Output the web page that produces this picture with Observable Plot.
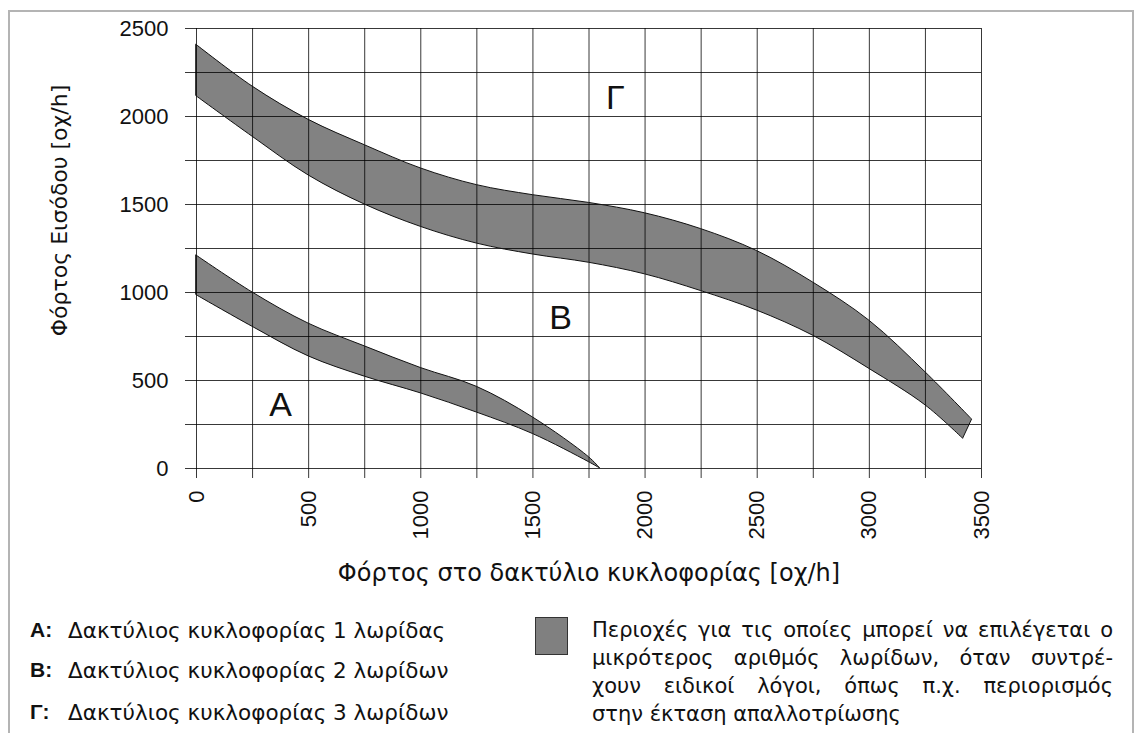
<!DOCTYPE html>
<html><head><meta charset="utf-8">
<script src="https://cdn.jsdelivr.net/npm/d3@7"></script>
<script src="https://cdn.jsdelivr.net/npm/@observablehq/plot@0.6"></script>
<style>
body{margin:0;background:#fff;}
#wrap{position:relative;width:1140px;height:733px;overflow:hidden;background:#fff;}
#frame{position:absolute;left:8px;top:10px;width:1126px;height:780px;border:2px solid #b4b4b4;box-sizing:border-box;}
#chart{position:absolute;left:0;top:0;}
.lg{font-family:"DejaVu Sans","Liberation Sans",Arial,sans-serif;color:#111;}
.leg{position:absolute;font-size:21.5px;white-space:nowrap;}
.leg b{position:absolute;left:0;font-family:"Liberation Sans",Arial,sans-serif;font-size:21px;}
.leg span{position:absolute;left:38px;}
#swatch{position:absolute;left:535px;top:617px;width:33px;height:38px;background:#808080;border:1.5px solid #333;box-sizing:border-box;}
#note{position:absolute;left:592px;top:616px;width:521px;font-size:21px;line-height:28px;}
#note div{text-align:justify;text-align-last:justify;white-space:nowrap;}
#note div.last{text-align-last:left;}
</style></head><body>
<div id="wrap">
<div id="frame"></div>
<div id="chart"></div>
<div class="lg">
<div class="leg" style="left:30px;top:618px"><b>Α:</b><span>Δακτύλιος κυκλοφορίας 1 λωρίδας</span></div>
<div class="leg" style="left:30px;top:658px"><b>Β:</b><span>Δακτύλιος κυκλοφορίας 2 λωρίδων</span></div>
<div class="leg" style="left:30px;top:700px"><b>Γ:</b><span>Δακτύλιος κυκλοφορίας 3 λωρίδων</span></div>
<div id="swatch"></div>
<div id="note">
<div>Περιοχές για τις οποίες μπορεί να επιλέγεται ο</div>
<div>μικρότερος αριθμός λωρίδων, όταν συντρέ-</div>
<div>χουν ειδικοί λόγοι, όπως π.χ. περιορισμός</div>
<div class="last">στην έκταση απαλλοτρίωσης</div>
</div>
</div>
</div>
<script>
// Axis ticks
const xTicks = [0, 250, 500, 750, 1000, 1250, 1500, 1750, 2000, 2250, 2500, 2750, 3000, 3250, 3500];
const yTicks = [0, 250, 500, 750, 1000, 1250, 1500, 1750, 2000, 2250, 2500];
const xLabelTicks = [0, 500, 1000, 1500, 2000, 2500, 3000, 3500];
const yLabelTicks = [0, 500, 1000, 1500, 2000, 2500];

// Band A (1-lane / 2-lane boundary zone): upper and lower edges [x, y]
const bandAUpper = [[0,1210],[250,1000],[500,823],[750,694],[1000,571],[1250,464],[1500,290],[1750,64],[1800,0]];
const bandALower = [[0,985],[250,805],[500,637],[750,522],[1000,427],[1250,318],[1500,196],[1750,36],[1800,0]];

// Band B (2-lane / 3-lane boundary zone): upper and lower edges [x, y]
const bandBUpper = [[0,2407],[250,2170],[500,1981],[750,1837],[1000,1705],[1250,1610],[1500,1553],[1750,1509],[2000,1450],[2250,1360],[2500,1235],[2750,1056],[3000,840],[3250,547],[3458,278]];
const bandBLower = [[0,2115],[250,1885],[500,1665],[750,1500],[1000,1373],[1250,1278],[1500,1216],[1750,1169],[2000,1103],[2250,1008],[2500,897],[2750,754],[3000,566],[3250,359],[3418,169]];

// Region labels
const regionNames = ["Α", "Β", "Γ"];
const regionX = [375, 1623, 1868];
const regionY = [358, 852, 2102];

const xTitle = "Φόρτος στο δακτύλιο κυκλοφορίας [οχ/h]";
const yTitle = "Φόρτος Εισόδου [οχ/h]";

const band = (up, lo) => up.map((p, i) => ({x1: p[0], y1: p[1], x2: lo[i][0], y2: lo[i][1]}));
const bandA = band(bandAUpper, bandALower);
const bandB = band(bandBUpper, bandBLower);
const regions = regionNames.map((n, i) => ({name: n, x: regionX[i], y: regionY[i]}));

const areaOpts = {x1: "x1", y1: "y1", x2: "x2", y2: "y2", curve: "catmull-rom"};
const titleFont = "DejaVu Sans, Liberation Sans, Arial, sans-serif";

const chart = Plot.plot({
  width: 1140,
  height: 600,
  marginLeft: 196,
  marginRight: 159,
  marginTop: 28,
  marginBottom: 132,
  style: {fontFamily: "Liberation Sans, Arial, sans-serif", fontSize: "22px", color: "#111", background: "transparent"},
  x: {domain: [0, 3500]},
  y: {domain: [0, 2500]},
  marks: [
    Plot.area(bandA, {...areaOpts, fill: "#828282"}),
    Plot.area(bandB, {...areaOpts, fill: "#828282"}),
    Plot.gridX(xTicks, {stroke: "#000", strokeOpacity: 0.78, strokeWidth: 1}),
    Plot.gridY(yTicks, {stroke: "#000", strokeOpacity: 0.78, strokeWidth: 1}),
    Plot.area(bandA, {...areaOpts, fill: "none", stroke: "#111", strokeWidth: 1}),
    Plot.area(bandB, {...areaOpts, fill: "none", stroke: "#111", strokeWidth: 1}),
    Plot.axisX({ticks: xTicks, tickFormat: d => xLabelTicks.includes(d) ? String(d) : "", tickSize: 10, tickPadding: 12, tickRotate: -90, fontSize: 22, label: null, stroke: "#000", strokeOpacity: 0.78}),
    Plot.axisY({ticks: yTicks, tickFormat: d => yLabelTicks.includes(d) ? String(d) : "", tickSize: 11, tickPadding: 17, fontSize: 22, label: null, stroke: "#000", strokeOpacity: 0.78}),
    Plot.text(regions, {x: "x", y: "y", text: "name", fontSize: 34, fill: "#111"}),
    Plot.text([xTitle], {frameAnchor: "bottom", dy: 112, fontSize: 24, fontFamily: titleFont, fill: "#111"}),
    Plot.text([yTitle], {frameAnchor: "left", textAnchor: "middle", dx: -137, dy: -38, rotate: -90, fontSize: 22, fontFamily: titleFont, fill: "#111"})
  ]
});
document.getElementById("chart").appendChild(chart);
</script>
</body></html>
